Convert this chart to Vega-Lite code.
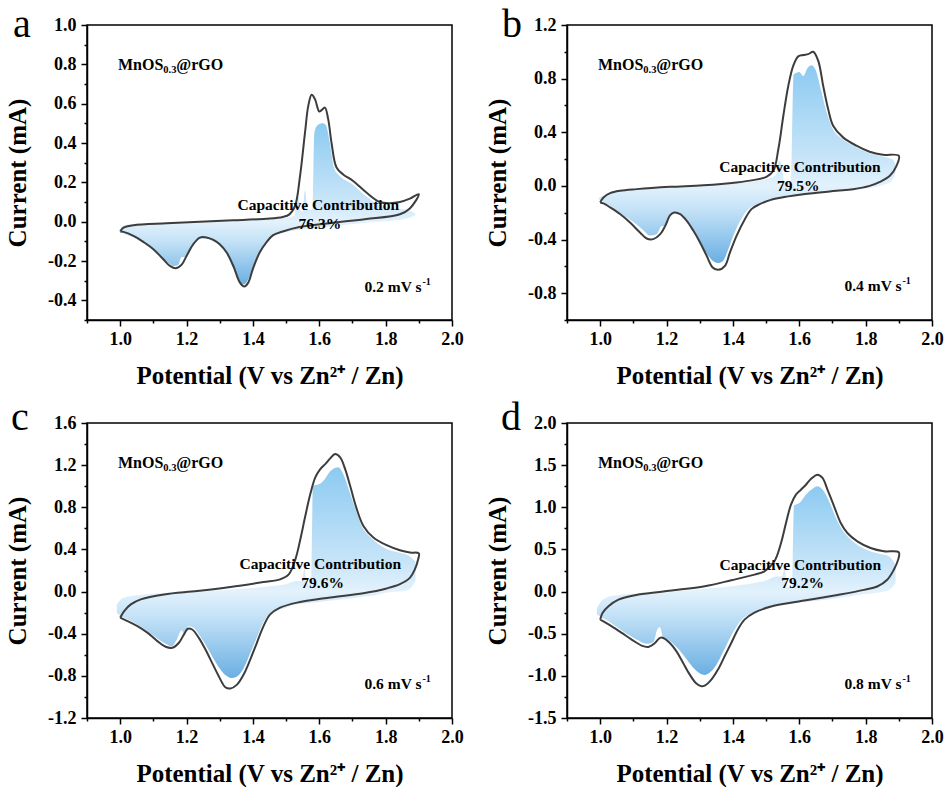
{
  "$schema": "https://vega.github.io/schema/vega-lite/v6.json",
  "padding": {"left": 4, "top": 4, "right": 5, "bottom": 0},
  "bounds": "flush",
  "columns": 2,
  "spacing": {"row": 103, "column": 115},
  "config": {
    "font": "Liberation Serif",
    "view": {"stroke": "black", "strokeWidth": 1.5},
    "axis": {
      "grid": false, "domainColor": "black", "domainWidth": 1.5,
      "tickColor": "black", "tickWidth": 1.5,
      "labelFont": "Liberation Serif", "labelFontSize": 18, "labelFontWeight": "bold", "labelColor": "black",
      "labelFlush": false, "labelOverlap": false,
      "titleFont": "Liberation Serif", "titleFontSize": 25, "titleFontWeight": "bold", "titleColor": "black"
    },
    "axisX": {"labelPadding": 4, "titlePadding": 15},
    "axisY": {"labelPadding": 5, "titlePadding": 17},
    "text": {"font": "Liberation Serif", "fontWeight": "bold", "color": "black"},
    "title": {"font": "Liberation Serif", "fontWeight": "normal", "fontSize": 40, "color": "black", "anchor": "start", "frame": "group", "baseline": "alphabetic", "offset": 0}
  },
  "datasets": {
    "cvA": [
      {"i":0,"v":1.0,"c":-0.05},{"i":1,"v":1.01,"c":-0.03},{"i":2,"v":1.04,"c":-0.018},{"i":3,"v":1.14,"c":-0.008},{"i":4,"v":1.24,"c":0.0},{"i":5,"v":1.34,"c":0.007},{"i":6,"v":1.44,"c":0.015},{"i":7,"v":1.49,"c":0.024},{"i":8,"v":1.51,"c":0.037},{"i":9,"v":1.527,"c":0.08},{"i":10,"v":1.542,"c":0.232},{"i":11,"v":1.557,"c":0.453},{"i":12,"v":1.567,"c":0.59},{"i":13,"v":1.577,"c":0.645},{"i":14,"v":1.587,"c":0.623},{"i":15,"v":1.6,"c":0.56},{"i":16,"v":1.607,"c":0.567},{"i":17,"v":1.617,"c":0.58},{"i":18,"v":1.627,"c":0.52},{"i":19,"v":1.637,"c":0.4},{"i":20,"v":1.652,"c":0.275},{"i":21,"v":1.672,"c":0.24},{"i":22,"v":1.702,"c":0.207},{"i":23,"v":1.742,"c":0.148},{"i":24,"v":1.782,"c":0.1},{"i":25,"v":1.812,"c":0.094},{"i":26,"v":1.843,"c":0.1},{"i":27,"v":1.873,"c":0.117},{"i":28,"v":1.9,"c":0.14},
      {"i":29,"v":1.873,"c":0.067},{"i":30,"v":1.843,"c":0.038},{"i":31,"v":1.742,"c":0.013},{"i":32,"v":1.642,"c":-0.005},{"i":33,"v":1.54,"c":-0.027},{"i":34,"v":1.49,"c":-0.05},{"i":35,"v":1.46,"c":-0.07},{"i":36,"v":1.44,"c":-0.107},{"i":37,"v":1.42,"c":-0.158},{"i":38,"v":1.4,"c":-0.24},{"i":39,"v":1.386,"c":-0.31},{"i":40,"v":1.374,"c":-0.33},{"i":41,"v":1.361,"c":-0.31},{"i":42,"v":1.341,"c":-0.225},{"i":43,"v":1.321,"c":-0.157},{"i":44,"v":1.3,"c":-0.115},{"i":45,"v":1.281,"c":-0.093},{"i":46,"v":1.26,"c":-0.08},{"i":47,"v":1.24,"c":-0.081},{"i":48,"v":1.22,"c":-0.115},{"i":49,"v":1.2,"c":-0.174},{"i":50,"v":1.186,"c":-0.217},{"i":51,"v":1.168,"c":-0.237},{"i":52,"v":1.15,"c":-0.225},{"i":53,"v":1.13,"c":-0.191},{"i":54,"v":1.1,"c":-0.14},{"i":55,"v":1.07,"c":-0.103},{"i":56,"v":1.04,"c":-0.072},{"i":57,"v":1.01,"c":-0.052},{"i":58,"v":1.0,"c":-0.05}
    ],
    "capA": [
      {"v":1.0,"c":-0.035,"lo":-0.05},{"v":1.01,"c":-0.02,"lo":-0.06},{"v":1.04,"c":-0.012,"lo":-0.08},{"v":1.07,"c":-0.008,"lo":-0.11},{"v":1.1,"c":-0.006,"lo":-0.145},{"v":1.13,"c":-0.005,"lo":-0.19},{"v":1.15,"c":-0.004,"lo":-0.215},{"v":1.16,"c":-0.003,"lo":-0.225},{"v":1.175,"c":-0.003,"lo":-0.22},{"v":1.185,"c":-0.002,"lo":-0.18},{"v":1.195,"c":-0.002,"lo":-0.18},{"v":1.205,"c":-0.001,"lo":-0.165},{"v":1.22,"c":0.0,"lo":-0.12},{"v":1.24,"c":0.0,"lo":-0.088},{"v":1.26,"c":0.001,"lo":-0.087},{"v":1.28,"c":0.002,"lo":-0.1},{"v":1.3,"c":0.003,"lo":-0.122},{"v":1.32,"c":0.004,"lo":-0.165},{"v":1.34,"c":0.005,"lo":-0.235},{"v":1.36,"c":0.006,"lo":-0.305},{"v":1.37,"c":0.006,"lo":-0.32},{"v":1.38,"c":0.007,"lo":-0.31},{"v":1.4,"c":0.008,"lo":-0.235},{"v":1.42,"c":0.01,"lo":-0.15},{"v":1.44,"c":0.012,"lo":-0.1},{"v":1.46,"c":0.014,"lo":-0.07},{"v":1.5,"c":0.02,"lo":-0.052},{"v":1.525,"c":0.03,"lo":-0.045},{"v":1.535,"c":0.15,"lo":-0.043},{"v":1.542,"c":0.06,"lo":-0.042},{"v":1.55,"c":0.05,"lo":-0.04},{"v":1.557,"c":0.16,"lo":-0.039},{"v":1.565,"c":0.06,"lo":-0.038},{"v":1.58,"c":0.06,"lo":-0.035},{"v":1.585,"c":0.45,"lo":-0.034},{"v":1.595,"c":0.49,"lo":-0.032},{"v":1.61,"c":0.5,"lo":-0.03},{"v":1.62,"c":0.49,"lo":-0.028},{"v":1.63,"c":0.42,"lo":-0.026},{"v":1.645,"c":0.27,"lo":-0.023},{"v":1.66,"c":0.235,"lo":-0.02},{"v":1.7,"c":0.19,"lo":-0.012},{"v":1.74,"c":0.13,"lo":-0.005},{"v":1.78,"c":0.085,"lo":0.0},{"v":1.82,"c":0.07,"lo":0.005},{"v":1.86,"c":0.06,"lo":0.015},{"v":1.88,"c":0.05,"lo":0.025},{"v":1.89,"c":0.04,"lo":0.035}
    ],
    "cvB": [
      {"i":0,"v":1.0,"c":-0.123},{"i":1,"v":1.01,"c":-0.086},{"i":2,"v":1.03,"c":-0.054},{"i":3,"v":1.06,"c":-0.036},{"i":4,"v":1.11,"c":-0.024},{"i":5,"v":1.211,"c":-0.007},{"i":6,"v":1.311,"c":0.005},{"i":7,"v":1.411,"c":0.026},{"i":8,"v":1.461,"c":0.043},{"i":9,"v":1.501,"c":0.068},{"i":10,"v":1.522,"c":0.113},{"i":11,"v":1.537,"c":0.275},{"i":12,"v":1.552,"c":0.523},{"i":13,"v":1.567,"c":0.747},{"i":14,"v":1.582,"c":0.897},{"i":15,"v":1.597,"c":0.966},{"i":16,"v":1.612,"c":0.976},{"i":17,"v":1.627,"c":0.983},{"i":18,"v":1.642,"c":1.0},{"i":19,"v":1.657,"c":0.934},{"i":20,"v":1.672,"c":0.747},{"i":21,"v":1.687,"c":0.573},{"i":22,"v":1.702,"c":0.449},{"i":23,"v":1.732,"c":0.362},{"i":24,"v":1.772,"c":0.3},{"i":25,"v":1.812,"c":0.255},{"i":26,"v":1.852,"c":0.232},{"i":27,"v":1.9,"c":0.225},
      {"i":28,"v":1.893,"c":0.15},{"i":29,"v":1.873,"c":0.076},{"i":30,"v":1.843,"c":0.03},{"i":31,"v":1.812,"c":0.0},{"i":32,"v":1.762,"c":-0.025},{"i":33,"v":1.712,"c":-0.037},{"i":34,"v":1.612,"c":-0.062},{"i":35,"v":1.562,"c":-0.08},{"i":36,"v":1.512,"c":-0.106},{"i":37,"v":1.481,"c":-0.136},{"i":38,"v":1.456,"c":-0.173},{"i":39,"v":1.436,"c":-0.248},{"i":40,"v":1.411,"c":-0.372},{"i":41,"v":1.391,"c":-0.497},{"i":42,"v":1.376,"c":-0.596},{"i":43,"v":1.356,"c":-0.626},{"i":44,"v":1.339,"c":-0.608},{"i":45,"v":1.321,"c":-0.521},{"i":46,"v":1.301,"c":-0.422},{"i":47,"v":1.281,"c":-0.335},{"i":48,"v":1.261,"c":-0.26},{"i":49,"v":1.241,"c":-0.21},{"i":50,"v":1.223,"c":-0.198},{"i":51,"v":1.211,"c":-0.218},{"i":52,"v":1.196,"c":-0.298},{"i":53,"v":1.181,"c":-0.36},{"i":54,"v":1.16,"c":-0.397},{"i":55,"v":1.14,"c":-0.392},{"i":56,"v":1.12,"c":-0.347},{"i":57,"v":1.09,"c":-0.273},{"i":58,"v":1.06,"c":-0.21},{"i":59,"v":1.03,"c":-0.16},{"i":60,"v":1.01,"c":-0.13},{"i":61,"v":1.0,"c":-0.123}
    ],
    "capB": [
      {"v":0.995,"c":-0.09,"lo":-0.1},{"v":1.01,"c":-0.07,"lo":-0.12},{"v":1.03,"c":-0.05,"lo":-0.15},{"v":1.06,"c":-0.035,"lo":-0.2},{"v":1.1,"c":-0.025,"lo":-0.27},{"v":1.13,"c":-0.02,"lo":-0.33},{"v":1.15,"c":-0.017,"lo":-0.37},{"v":1.17,"c":-0.015,"lo":-0.36},{"v":1.185,"c":-0.013,"lo":-0.3},{"v":1.195,"c":-0.012,"lo":-0.3},{"v":1.205,"c":-0.01,"lo":-0.24},{"v":1.22,"c":-0.008,"lo":-0.2},{"v":1.24,"c":-0.006,"lo":-0.21},{"v":1.26,"c":-0.004,"lo":-0.26},{"v":1.28,"c":-0.002,"lo":-0.33},{"v":1.3,"c":0.0,"lo":-0.41},{"v":1.32,"c":0.002,"lo":-0.5},{"v":1.34,"c":0.005,"lo":-0.56},{"v":1.355,"c":0.008,"lo":-0.575},{"v":1.37,"c":0.01,"lo":-0.56},{"v":1.385,"c":0.012,"lo":-0.48},{"v":1.4,"c":0.015,"lo":-0.38},{"v":1.42,"c":0.02,"lo":-0.27},{"v":1.44,"c":0.025,"lo":-0.19},{"v":1.47,"c":0.035,"lo":-0.14},{"v":1.5,"c":0.05,"lo":-0.11},{"v":1.53,"c":0.08,"lo":-0.095},{"v":1.54,"c":0.19,"lo":-0.09},{"v":1.55,"c":0.1,"lo":-0.087},{"v":1.555,"c":0.03,"lo":-0.085},{"v":1.575,"c":0.03,"lo":-0.08},{"v":1.583,"c":0.83,"lo":-0.078},{"v":1.6,"c":0.85,"lo":-0.072},{"v":1.612,"c":0.82,"lo":-0.068},{"v":1.625,"c":0.88,"lo":-0.065},{"v":1.637,"c":0.9,"lo":-0.062},{"v":1.65,"c":0.86,"lo":-0.058},{"v":1.665,"c":0.72,"lo":-0.055},{"v":1.68,"c":0.57,"lo":-0.05},{"v":1.7,"c":0.43,"lo":-0.045},{"v":1.73,"c":0.35,"lo":-0.038},{"v":1.77,"c":0.29,"lo":-0.03},{"v":1.81,"c":0.245,"lo":-0.015},{"v":1.85,"c":0.22,"lo":0.005},{"v":1.88,"c":0.2,"lo":0.04},{"v":1.89,"c":0.16,"lo":0.1}
    ],
    "cvC": [
      {"i":0,"v":1.0,"c":-0.248},{"i":1,"v":1.012,"c":-0.185},{"i":2,"v":1.032,"c":-0.122},{"i":3,"v":1.062,"c":-0.074},{"i":4,"v":1.132,"c":-0.027},{"i":5,"v":1.232,"c":0.005},{"i":6,"v":1.332,"c":0.043},{"i":7,"v":1.432,"c":0.09},{"i":8,"v":1.482,"c":0.116},{"i":9,"v":1.508,"c":0.163},{"i":10,"v":1.528,"c":0.306},{"i":11,"v":1.543,"c":0.497},{"i":12,"v":1.558,"c":0.719},{"i":13,"v":1.573,"c":0.925},{"i":14,"v":1.588,"c":1.083},{"i":15,"v":1.603,"c":1.162},{"i":16,"v":1.618,"c":1.21},{"i":17,"v":1.633,"c":1.264},{"i":18,"v":1.648,"c":1.305},{"i":19,"v":1.663,"c":1.273},{"i":20,"v":1.678,"c":1.162},{"i":21,"v":1.693,"c":1.004},{"i":22,"v":1.713,"c":0.782},{"i":23,"v":1.733,"c":0.623},{"i":24,"v":1.763,"c":0.513},{"i":25,"v":1.803,"c":0.44},{"i":26,"v":1.843,"c":0.392},{"i":27,"v":1.873,"c":0.37},{"i":28,"v":1.9,"c":0.363},
      {"i":29,"v":1.898,"c":0.306},{"i":30,"v":1.888,"c":0.21},{"i":31,"v":1.873,"c":0.13},{"i":32,"v":1.843,"c":0.07},{"i":33,"v":1.803,"c":0.03},{"i":34,"v":1.733,"c":-0.015},{"i":35,"v":1.633,"c":-0.056},{"i":36,"v":1.533,"c":-0.105},{"i":37,"v":1.482,"c":-0.153},{"i":38,"v":1.452,"c":-0.217},{"i":39,"v":1.432,"c":-0.328},{"i":40,"v":1.412,"c":-0.486},{"i":41,"v":1.392,"c":-0.645},{"i":42,"v":1.372,"c":-0.787},{"i":43,"v":1.352,"c":-0.883},{"i":44,"v":1.332,"c":-0.92},{"i":45,"v":1.317,"c":-0.908},{"i":46,"v":1.297,"c":-0.803},{"i":47,"v":1.277,"c":-0.677},{"i":48,"v":1.257,"c":-0.55},{"i":49,"v":1.237,"c":-0.439},{"i":50,"v":1.217,"c":-0.36},{"i":51,"v":1.204,"c":-0.353},{"i":52,"v":1.192,"c":-0.407},{"i":53,"v":1.177,"c":-0.486},{"i":54,"v":1.157,"c":-0.534},{"i":55,"v":1.137,"c":-0.524},{"i":56,"v":1.112,"c":-0.47},{"i":57,"v":1.082,"c":-0.39},{"i":58,"v":1.052,"c":-0.328},{"i":59,"v":1.022,"c":-0.28},{"i":60,"v":1.0,"c":-0.248}
    ],
    "capC": [
      {"v":0.99,"c":-0.12,"lo":-0.2},{"v":1.0,"c":-0.08,"lo":-0.23},{"v":1.02,"c":-0.05,"lo":-0.26},{"v":1.05,"c":-0.035,"lo":-0.31},{"v":1.08,"c":-0.025,"lo":-0.37},{"v":1.11,"c":-0.015,"lo":-0.44},{"v":1.14,"c":-0.01,"lo":-0.5},{"v":1.155,"c":-0.008,"lo":-0.52},{"v":1.17,"c":-0.006,"lo":-0.46},{"v":1.185,"c":-0.004,"lo":-0.37},{"v":1.195,"c":-0.003,"lo":-0.42},{"v":1.205,"c":-0.002,"lo":-0.33},{"v":1.22,"c":0.0,"lo":-0.34},{"v":1.24,"c":0.003,"lo":-0.42},{"v":1.26,"c":0.006,"lo":-0.52},{"v":1.28,"c":0.01,"lo":-0.63},{"v":1.3,"c":0.013,"lo":-0.73},{"v":1.32,"c":0.016,"lo":-0.8},{"v":1.335,"c":0.02,"lo":-0.82},{"v":1.35,"c":0.023,"lo":-0.81},{"v":1.37,"c":0.027,"lo":-0.74},{"v":1.39,"c":0.032,"lo":-0.6},{"v":1.41,"c":0.037,"lo":-0.45},{"v":1.43,"c":0.043,"lo":-0.3},{"v":1.45,"c":0.05,"lo":-0.21},{"v":1.5,"c":0.07,"lo":-0.15},{"v":1.53,"c":0.1,"lo":-0.12},{"v":1.548,"c":0.1,"lo":-0.115},{"v":1.555,"c":0.22,"lo":-0.113},{"v":1.562,"c":0.08,"lo":-0.11},{"v":1.575,"c":0.08,"lo":-0.105},{"v":1.581,"c":1.0,"lo":-0.104},{"v":1.6,"c":1.02,"lo":-0.098},{"v":1.615,"c":1.06,"lo":-0.093},{"v":1.63,"c":1.13,"lo":-0.088},{"v":1.645,"c":1.17,"lo":-0.083},{"v":1.658,"c":1.18,"lo":-0.078},{"v":1.67,"c":1.13,"lo":-0.074},{"v":1.69,"c":0.96,"lo":-0.066},{"v":1.71,"c":0.77,"lo":-0.058},{"v":1.73,"c":0.61,"lo":-0.05},{"v":1.76,"c":0.5,"lo":-0.04},{"v":1.8,"c":0.41,"lo":-0.01},{"v":1.84,"c":0.37,"lo":0.0},{"v":1.87,"c":0.34,"lo":0.02},{"v":1.89,"c":0.28,"lo":0.1}
    ],
    "cvD": [
      {"i":0,"v":1.0,"c":-0.333},{"i":1,"v":1.007,"c":-0.254},{"i":2,"v":1.025,"c":-0.175},{"i":3,"v":1.055,"c":-0.096},{"i":4,"v":1.115,"c":-0.036},{"i":5,"v":1.215,"c":0.012},{"i":6,"v":1.315,"c":0.063},{"i":7,"v":1.395,"c":0.134},{"i":8,"v":1.465,"c":0.201},{"i":9,"v":1.495,"c":0.24},{"i":10,"v":1.525,"c":0.359},{"i":11,"v":1.545,"c":0.577},{"i":12,"v":1.56,"c":0.814},{"i":13,"v":1.575,"c":1.031},{"i":14,"v":1.59,"c":1.15},{"i":15,"v":1.605,"c":1.209},{"i":16,"v":1.62,"c":1.268},{"i":17,"v":1.635,"c":1.336},{"i":18,"v":1.655,"c":1.387},{"i":19,"v":1.67,"c":1.348},{"i":20,"v":1.685,"c":1.209},{"i":21,"v":1.705,"c":1.011},{"i":22,"v":1.725,"c":0.814},{"i":23,"v":1.745,"c":0.695},{"i":24,"v":1.775,"c":0.596},{"i":25,"v":1.815,"c":0.517},{"i":26,"v":1.855,"c":0.478},{"i":27,"v":1.9,"c":0.466},
      {"i":28,"v":1.898,"c":0.379},{"i":29,"v":1.885,"c":0.26},{"i":30,"v":1.865,"c":0.14},{"i":31,"v":1.835,"c":0.06},{"i":32,"v":1.795,"c":0.02},{"i":33,"v":1.715,"c":-0.04},{"i":34,"v":1.615,"c":-0.107},{"i":35,"v":1.515,"c":-0.178},{"i":36,"v":1.465,"c":-0.25},{"i":37,"v":1.435,"c":-0.333},{"i":38,"v":1.415,"c":-0.45},{"i":39,"v":1.395,"c":-0.61},{"i":40,"v":1.375,"c":-0.768},{"i":41,"v":1.355,"c":-0.926},{"i":42,"v":1.335,"c":-1.045},{"i":43,"v":1.315,"c":-1.116},{"i":44,"v":1.305,"c":-1.124},{"i":45,"v":1.29,"c":-1.092},{"i":46,"v":1.27,"c":-0.985},{"i":47,"v":1.25,"c":-0.847},{"i":48,"v":1.23,"c":-0.709},{"i":49,"v":1.21,"c":-0.61},{"i":50,"v":1.19,"c":-0.55},{"i":51,"v":1.18,"c":-0.55},{"i":52,"v":1.165,"c":-0.61},{"i":53,"v":1.145,"c":-0.657},{"i":54,"v":1.125,"c":-0.641},{"i":55,"v":1.095,"c":-0.57},{"i":56,"v":1.065,"c":-0.49},{"i":57,"v":1.035,"c":-0.412},{"i":58,"v":1.015,"c":-0.365},{"i":59,"v":1.0,"c":-0.333}
    ],
    "capD": [
      {"v":0.99,"c":-0.2,"lo":-0.27},{"v":1.0,"c":-0.13,"lo":-0.3},{"v":1.02,"c":-0.07,"lo":-0.34},{"v":1.05,"c":-0.045,"lo":-0.42},{"v":1.08,"c":-0.03,"lo":-0.5},{"v":1.11,"c":-0.02,"lo":-0.57},{"v":1.14,"c":-0.012,"lo":-0.62},{"v":1.16,"c":-0.008,"lo":-0.6},{"v":1.172,"c":-0.006,"lo":-0.45},{"v":1.18,"c":-0.005,"lo":-0.42},{"v":1.19,"c":-0.004,"lo":-0.55},{"v":1.2,"c":-0.002,"lo":-0.56},{"v":1.22,"c":0.002,"lo":-0.62},{"v":1.25,"c":0.01,"lo":-0.75},{"v":1.28,"c":0.02,"lo":-0.9},{"v":1.3,"c":0.027,"lo":-0.97},{"v":1.315,"c":0.032,"lo":-0.99},{"v":1.33,"c":0.037,"lo":-0.96},{"v":1.35,"c":0.045,"lo":-0.87},{"v":1.37,"c":0.052,"lo":-0.72},{"v":1.39,"c":0.06,"lo":-0.56},{"v":1.41,"c":0.07,"lo":-0.42},{"v":1.43,"c":0.08,"lo":-0.32},{"v":1.46,"c":0.1,"lo":-0.25},{"v":1.5,"c":0.13,"lo":-0.19},{"v":1.53,"c":0.18,"lo":-0.16},{"v":1.548,"c":0.18,"lo":-0.15},{"v":1.556,"c":0.27,"lo":-0.148},{"v":1.563,"c":0.05,"lo":-0.145},{"v":1.578,"c":0.05,"lo":-0.14},{"v":1.584,"c":1.02,"lo":-0.138},{"v":1.6,"c":1.05,"lo":-0.13},{"v":1.62,"c":1.15,"lo":-0.122},{"v":1.64,"c":1.22,"lo":-0.114},{"v":1.655,"c":1.25,"lo":-0.108},{"v":1.67,"c":1.21,"lo":-0.1},{"v":1.69,"c":1.07,"lo":-0.09},{"v":1.71,"c":0.88,"lo":-0.08},{"v":1.73,"c":0.73,"lo":-0.068},{"v":1.76,"c":0.6,"lo":-0.05},{"v":1.8,"c":0.5,"lo":-0.03},{"v":1.84,"c":0.45,"lo":-0.01},{"v":1.87,"c":0.42,"lo":0.02},{"v":1.89,"c":0.32,"lo":0.1}
    ]
  },
  "concat": [
    {
      "width": 365, "height": 295,
      "title": {"text": "a", "dx": -74, "dy": 33},
      "encoding": {
        "x": {"field": "v", "type": "quantitative", "scale": {"domain": [0.9, 2.0], "nice": false, "zero": false}, "axis": {"title": "Potential (V vs Zn²⁺ / Zn)", "values": [0.9,1.0,1.1,1.2,1.3,1.4,1.5,1.6,1.7,1.8,1.9,2.0], "labelExpr": "round(datum.value*10)%2==0 ? format(datum.value,'.1f') : ''", "tickSize": {"condition": {"test": "round(datum.value*10)%2!=0", "value": 3}, "value": 6}}},
        "y": {"field": "c", "type": "quantitative", "scale": {"domain": [-0.5, 1.0], "nice": false, "zero": false}, "axis": {"title": "Current (mA)", "values": [-0.5,-0.4,-0.3,-0.2,-0.1,0,0.1,0.2,0.3,0.4,0.5,0.6,0.7,0.8,0.9,1.0], "labelExpr": "round(datum.value*10)%2==0 ? replace(format(datum.value,'.1f'),'\u2212','-') : ''", "tickSize": {"condition": {"test": "round(datum.value*10)%2!=0", "value": 3}, "value": 6}}}
      },
      "layer": [
        {"data": {"name": "capA"}, "mark": {"type": "area", "interpolate": "monotone", "color": {"gradient": "linear", "x1": 0, "y1": 0, "x2": 0, "y2": 1, "stops": [{"offset": 0, "color": "#8ccaf1"}, {"offset": 0.46, "color": "#c6e4f8"}, {"offset": 0.61, "color": "#e3f2fc"}, {"offset": 0.73, "color": "#c4e2f7"}, {"offset": 1, "color": "#6aafe2"}]}}, "encoding": {"y2": {"field": "lo"}}},
        {"data": {"name": "cvA"}, "mark": {"type": "line", "interpolate": "catmull-rom", "color": "#3d3d3d", "strokeWidth": 2, "strokeJoin": "round"}, "encoding": {"order": {"field": "i", "type": "quantitative"}}},
        {"data": {"values": [{"v": 1.13, "c": 0.796}]}, "mark": {"type": "text", "text": "MnOS", "align": "right", "baseline": "middle", "fontSize": 16}},
        {"data": {"values": [{"v": 1.13, "c": 0.796}]}, "mark": {"type": "text", "text": "0.3", "align": "left", "baseline": "middle", "fontSize": 10.5, "dy": 5}},
        {"data": {"values": [{"v": 1.13, "c": 0.796}]}, "mark": {"type": "text", "text": "@rGO", "align": "left", "baseline": "middle", "fontSize": 16, "dx": 13}},
        {"data": {"values": [{"v": 1.597, "c": 0.087}]}, "mark": {"type": "text", "text": "Capacitive Contribution", "align": "center", "baseline": "middle", "fontSize": 15.5}},
        {"data": {"values": [{"v": 1.602, "c": -0.01}]}, "mark": {"type": "text", "text": "76.3%", "align": "center", "baseline": "middle", "fontSize": 15.5}},
        {"data": {"values": [{"v": 1.908, "c": -0.333}]}, "mark": {"type": "text", "text": "0.2 mV s", "align": "right", "baseline": "middle", "fontSize": 15.5}},
        {"data": {"values": [{"v": 1.908, "c": -0.333}]}, "mark": {"type": "text", "text": "-1", "align": "left", "baseline": "middle", "fontSize": 10, "dx": 1, "dy": -5}}
      ]
    },
    {
      "width": 365, "height": 295,
      "title": {"text": "b", "dx": -65, "dy": 33},
      "encoding": {
        "x": {"field": "v", "type": "quantitative", "scale": {"domain": [0.9, 2.0], "nice": false, "zero": false}, "axis": {"title": "Potential (V vs Zn²⁺ / Zn)", "values": [0.9,1.0,1.1,1.2,1.3,1.4,1.5,1.6,1.7,1.8,1.9,2.0], "labelExpr": "round(datum.value*10)%2==0 ? format(datum.value,'.1f') : ''", "tickSize": {"condition": {"test": "round(datum.value*10)%2!=0", "value": 3}, "value": 6}}},
        "y": {"field": "c", "type": "quantitative", "scale": {"domain": [-1.0, 1.2], "nice": false, "zero": false}, "axis": {"title": "Current (mA)", "values": [-1.0,-0.8,-0.6,-0.4,-0.2,0,0.2,0.4,0.6,0.8,1.0,1.2], "labelExpr": "round(datum.value*10)%4==0 ? replace(format(datum.value,'.1f'),'\u2212','-') : ''", "tickSize": {"condition": {"test": "round(datum.value*10)%4!=0", "value": 3}, "value": 6}}}
      },
      "layer": [
        {"data": {"name": "capB"}, "mark": {"type": "area", "interpolate": "monotone", "color": {"gradient": "linear", "x1": 0, "y1": 0, "x2": 0, "y2": 1, "stops": [{"offset": 0, "color": "#8ccaf1"}, {"offset": 0.46, "color": "#c6e4f8"}, {"offset": 0.61, "color": "#e3f2fc"}, {"offset": 0.73, "color": "#c4e2f7"}, {"offset": 1, "color": "#6aafe2"}]}}, "encoding": {"y2": {"field": "lo"}}},
        {"data": {"name": "cvB"}, "mark": {"type": "line", "interpolate": "catmull-rom", "color": "#3d3d3d", "strokeWidth": 2, "strokeJoin": "round"}, "encoding": {"order": {"field": "i", "type": "quantitative"}}},
        {"data": {"values": [{"v": 1.13, "c": 0.9}]}, "mark": {"type": "text", "text": "MnOS", "align": "right", "baseline": "middle", "fontSize": 16}},
        {"data": {"values": [{"v": 1.13, "c": 0.9}]}, "mark": {"type": "text", "text": "0.3", "align": "left", "baseline": "middle", "fontSize": 10.5, "dy": 5}},
        {"data": {"values": [{"v": 1.13, "c": 0.9}]}, "mark": {"type": "text", "text": "@rGO", "align": "left", "baseline": "middle", "fontSize": 16, "dx": 13}},
        {"data": {"values": [{"v": 1.602, "c": 0.143}]}, "mark": {"type": "text", "text": "Capacitive Contribution", "align": "center", "baseline": "middle", "fontSize": 15.5}},
        {"data": {"values": [{"v": 1.597, "c": 0.0}]}, "mark": {"type": "text", "text": "79.5%", "align": "center", "baseline": "middle", "fontSize": 15.5}},
        {"data": {"values": [{"v": 1.908, "c": -0.745}]}, "mark": {"type": "text", "text": "0.4 mV s", "align": "right", "baseline": "middle", "fontSize": 15.5}},
        {"data": {"values": [{"v": 1.908, "c": -0.745}]}, "mark": {"type": "text", "text": "-1", "align": "left", "baseline": "middle", "fontSize": 10, "dx": 1, "dy": -5}}
      ]
    },
    {
      "width": 365, "height": 295,
      "title": {"text": "c", "dx": -76, "dy": 28},
      "encoding": {
        "x": {"field": "v", "type": "quantitative", "scale": {"domain": [0.9, 2.0], "nice": false, "zero": false}, "axis": {"title": "Potential (V vs Zn²⁺ / Zn)", "values": [0.9,1.0,1.1,1.2,1.3,1.4,1.5,1.6,1.7,1.8,1.9,2.0], "labelExpr": "round(datum.value*10)%2==0 ? format(datum.value,'.1f') : ''", "tickSize": {"condition": {"test": "round(datum.value*10)%2!=0", "value": 3}, "value": 6}}},
        "y": {"field": "c", "type": "quantitative", "scale": {"domain": [-1.2, 1.6], "nice": false, "zero": false}, "axis": {"title": "Current (mA)", "values": [-1.2,-1.0,-0.8,-0.6,-0.4,-0.2,0,0.2,0.4,0.6,0.8,1.0,1.2,1.4,1.6], "labelExpr": "round(datum.value*10)%4==0 ? replace(format(datum.value,'.1f'),'\u2212','-') : ''", "tickSize": {"condition": {"test": "round(datum.value*10)%4!=0", "value": 3}, "value": 6}}}
      },
      "layer": [
        {"data": {"name": "capC"}, "mark": {"type": "area", "interpolate": "monotone", "color": {"gradient": "linear", "x1": 0, "y1": 0, "x2": 0, "y2": 1, "stops": [{"offset": 0, "color": "#8ccaf1"}, {"offset": 0.44, "color": "#c6e4f8"}, {"offset": 0.59, "color": "#e3f2fc"}, {"offset": 0.71, "color": "#c4e2f7"}, {"offset": 1, "color": "#6aafe2"}]}}, "encoding": {"y2": {"field": "lo"}}},
        {"data": {"name": "cvC"}, "mark": {"type": "line", "interpolate": "catmull-rom", "color": "#3d3d3d", "strokeWidth": 2, "strokeJoin": "round"}, "encoding": {"order": {"field": "i", "type": "quantitative"}}},
        {"data": {"values": [{"v": 1.13, "c": 1.22}]}, "mark": {"type": "text", "text": "MnOS", "align": "right", "baseline": "middle", "fontSize": 16}},
        {"data": {"values": [{"v": 1.13, "c": 1.22}]}, "mark": {"type": "text", "text": "0.3", "align": "left", "baseline": "middle", "fontSize": 10.5, "dy": 5}},
        {"data": {"values": [{"v": 1.13, "c": 1.22}]}, "mark": {"type": "text", "text": "@rGO", "align": "left", "baseline": "middle", "fontSize": 16, "dx": 13}},
        {"data": {"values": [{"v": 1.603, "c": 0.257}]}, "mark": {"type": "text", "text": "Capacitive Contribution", "align": "center", "baseline": "middle", "fontSize": 15.5}},
        {"data": {"values": [{"v": 1.61, "c": 0.083}]}, "mark": {"type": "text", "text": "79.6%", "align": "center", "baseline": "middle", "fontSize": 15.5}},
        {"data": {"values": [{"v": 1.908, "c": -0.876}]}, "mark": {"type": "text", "text": "0.6 mV s", "align": "right", "baseline": "middle", "fontSize": 15.5}},
        {"data": {"values": [{"v": 1.908, "c": -0.876}]}, "mark": {"type": "text", "text": "-1", "align": "left", "baseline": "middle", "fontSize": 10, "dx": 1, "dy": -5}}
      ]
    },
    {
      "width": 365, "height": 295,
      "title": {"text": "d", "dx": -66, "dy": 28},
      "encoding": {
        "x": {"field": "v", "type": "quantitative", "scale": {"domain": [0.9, 2.0], "nice": false, "zero": false}, "axis": {"title": "Potential (V vs Zn²⁺ / Zn)", "values": [0.9,1.0,1.1,1.2,1.3,1.4,1.5,1.6,1.7,1.8,1.9,2.0], "labelExpr": "round(datum.value*10)%2==0 ? format(datum.value,'.1f') : ''", "tickSize": {"condition": {"test": "round(datum.value*10)%2!=0", "value": 3}, "value": 6}}},
        "y": {"field": "c", "type": "quantitative", "scale": {"domain": [-1.5, 2.0], "nice": false, "zero": false}, "axis": {"title": "Current (mA)", "values": [-1.5,-1.25,-1.0,-0.75,-0.5,-0.25,0,0.25,0.5,0.75,1.0,1.25,1.5,1.75,2.0], "labelExpr": "round(datum.value*4)%2==0 ? replace(format(datum.value,'.1f'),'\u2212','-') : ''", "tickSize": {"condition": {"test": "round(datum.value*4)%2!=0", "value": 3}, "value": 6}}}
      },
      "layer": [
        {"data": {"name": "capD"}, "mark": {"type": "area", "interpolate": "monotone", "color": {"gradient": "linear", "x1": 0, "y1": 0, "x2": 0, "y2": 1, "stops": [{"offset": 0, "color": "#8ccaf1"}, {"offset": 0.41, "color": "#c6e4f8"}, {"offset": 0.56, "color": "#e3f2fc"}, {"offset": 0.68, "color": "#c4e2f7"}, {"offset": 1, "color": "#6aafe2"}]}}, "encoding": {"y2": {"field": "lo"}}},
        {"data": {"name": "cvD"}, "mark": {"type": "line", "interpolate": "catmull-rom", "color": "#3d3d3d", "strokeWidth": 2, "strokeJoin": "round"}, "encoding": {"order": {"field": "i", "type": "quantitative"}}},
        {"data": {"values": [{"v": 1.13, "c": 1.524}]}, "mark": {"type": "text", "text": "MnOS", "align": "right", "baseline": "middle", "fontSize": 16}},
        {"data": {"values": [{"v": 1.13, "c": 1.524}]}, "mark": {"type": "text", "text": "0.3", "align": "left", "baseline": "middle", "fontSize": 10.5, "dy": 5}},
        {"data": {"values": [{"v": 1.13, "c": 1.524}]}, "mark": {"type": "text", "text": "@rGO", "align": "left", "baseline": "middle", "fontSize": 16, "dx": 13}},
        {"data": {"values": [{"v": 1.603, "c": 0.321}]}, "mark": {"type": "text", "text": "Capacitive Contribution", "align": "center", "baseline": "middle", "fontSize": 15.5}},
        {"data": {"values": [{"v": 1.61, "c": 0.104}]}, "mark": {"type": "text", "text": "79.2%", "align": "center", "baseline": "middle", "fontSize": 15.5}},
        {"data": {"values": [{"v": 1.908, "c": -1.095}]}, "mark": {"type": "text", "text": "0.8 mV s", "align": "right", "baseline": "middle", "fontSize": 15.5}},
        {"data": {"values": [{"v": 1.908, "c": -1.095}]}, "mark": {"type": "text", "text": "-1", "align": "left", "baseline": "middle", "fontSize": 10, "dx": 1, "dy": -5}}
      ]
    }
  ]
}
